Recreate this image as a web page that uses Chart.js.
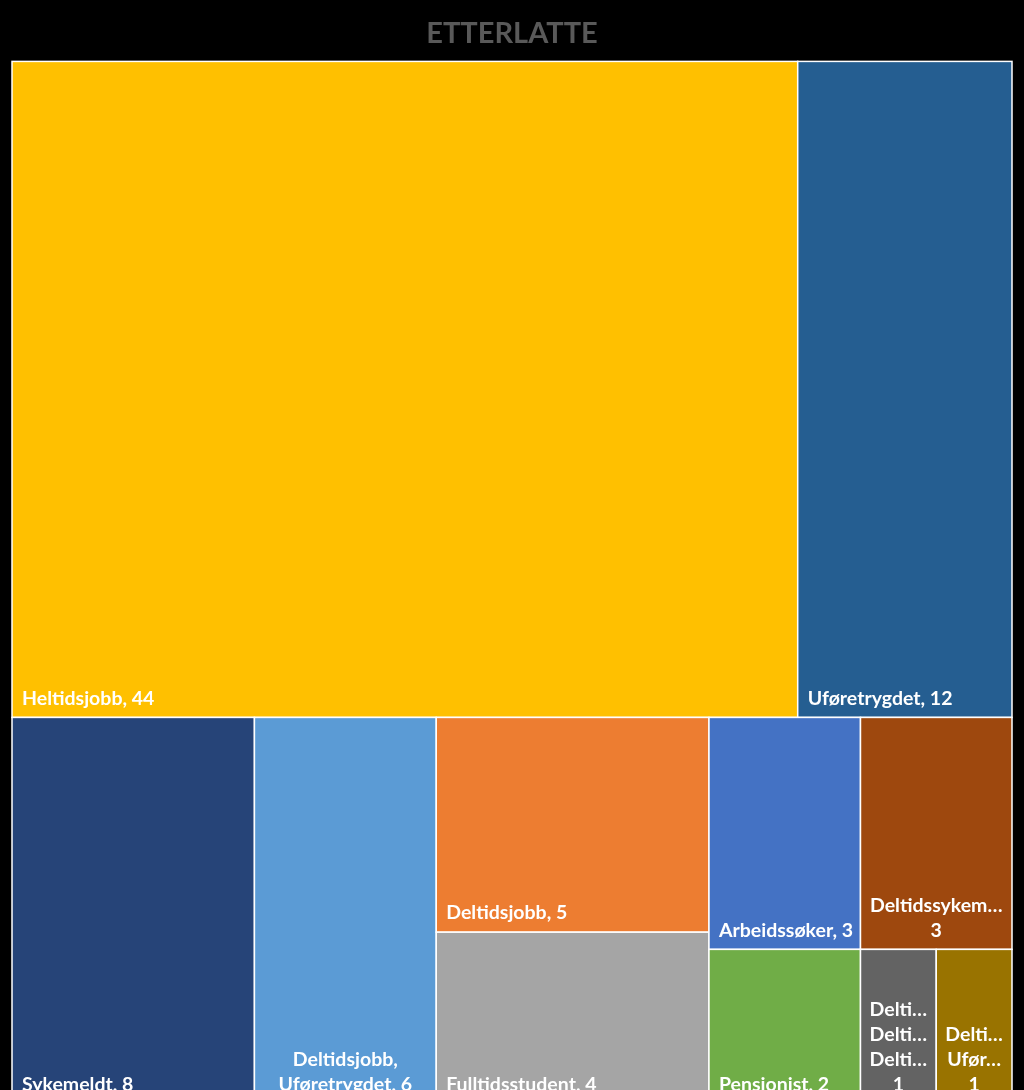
<!DOCTYPE html>
<html>
<head>
<meta charset="utf-8">
<script src="https://cdn.jsdelivr.net/npm/chart.js@4.4.1/dist/chart.umd.min.js"></script>
<style>
	html, body { margin: 0; padding: 0; background: #000; overflow: hidden; }
	#wrap { width: 1024px; height: 1106px; }
</style>
</head>
<body>
<div id="wrap"><canvas id="treemapChart" width="1024" height="1106"></canvas></div>
<script>
// 카테고리 / 값 / 색상
const categories = [
	'Heltidsjobb',
	'Uføretrygdet',
	'Sykemeldt',
	'Deltidsjobb, Uføretrygdet',
	'Deltidsjobb',
	'Fulltidsstudent',
	'Arbeidssøker',
	'Deltidssykemeldt',
	'Pensjonist',
	'Deltidsjobb, Deltidssykemeldt, Deltidsstudent',
	'Deltidssykemeldt, Uføretrygdet'
];
const values = [44, 12, 8, 6, 5, 4, 3, 3, 2, 1, 1];
const colors = [
	'#FFC000', '#255E91', '#264478', '#5B9BD5', '#ED7D31', '#A5A5A5',
	'#4472C4', '#9E480E', '#70AD47', '#636363', '#997300'
];
// 셀 묶음 (Excel 트리맵과 같은 분할 순서, 방향은 단계마다 번갈아 바뀜)
const groups = [[0, 1], [[2], [3], [4, 5], [[6, 7], [8, 9, 10]]]];

function groupSum(node) {
	if (typeof node === 'number') return values[node];
	return node.reduce((s, n) => s + groupSum(n), 0);
}

// 값 비율로 셀 영역 계산 (0~1 좌표)
function layout(node, x0, y0, x1, y1, stackVertical, out) {
	if (typeof node === 'number') {
		out.push({ i: node, x0, y0, x1, y1 });
		return out;
	}
	const total = groupSum(node);
	let pos = stackVertical ? y0 : x0;
	node.forEach(child => {
		const frac = groupSum(child) / total;
		if (stackVertical) {
			const end = pos + (y1 - y0) * frac;
			layout(child, x0, pos, x1, end, false, out);
			pos = end;
		} else {
			const end = pos + (x1 - x0) * frac;
			layout(child, pos, y0, end, y1, true, out);
			pos = end;
		}
	});
	return out;
}

const cells = layout(groups, 0, 0, 1, 1, true, []);

function fitWord(ctx, word, maxW) {
	if (ctx.measureText(word).width <= maxW) return word;
	let s = word;
	while (s.length > 1 && ctx.measureText(s + '…').width > maxW) s = s.slice(0, -1);
	return s + '…';
}

// 트리맵 그리기 플러그인
const treemapPlugin = {
	id: 'treemapCells',
	afterDatasetsDraw(chart) {
		const { ctx, scales: { x, y } } = chart;
		ctx.save();
		cells.forEach(c => {
			const left = x.getPixelForValue(c.x0);
			const right = x.getPixelForValue(c.x1);
			const top = y.getPixelForValue(c.y0);
			const bottom = y.getPixelForValue(c.y1);
			ctx.fillStyle = colors[c.i];
			ctx.fillRect(left, top, right - left, bottom - top);
			ctx.strokeStyle = '#FFFFFF';
			ctx.lineWidth = 1.5;
			ctx.strokeRect(left, top, right - left, bottom - top);
		});

		// 라벨
		ctx.font = 'bold 19.5px Lato';
		ctx.fillStyle = '#FFFFFF';
		ctx.textBaseline = 'middle';
		cells.forEach(c => {
			const left = x.getPixelForValue(c.x0);
			const right = x.getPixelForValue(c.x1);
			const bottom = y.getPixelForValue(c.y1);
			const w = right - left;
			const maxW = w - 14;
			const label = `${categories[c.i]}, ${values[c.i]}`;
			if (ctx.measureText(label).width <= maxW) {
				ctx.textAlign = 'left';
				ctx.fillText(label, left + 10, bottom - 19);
				return;
			}
			// 줄바꿈 + 말줄임
			const words = label.split(' ');
			const lines = [];
			let cur = '';
			words.forEach(wd => {
				const test = cur ? cur + ' ' + wd : wd;
				if (ctx.measureText(test).width <= maxW) {
					cur = test;
				} else {
					if (cur) lines.push(cur);
					if (ctx.measureText(wd).width > maxW) {
						lines.push(fitWord(ctx, wd, maxW));
						cur = '';
					} else {
						cur = wd;
					}
				}
			});
			if (cur) lines.push(cur);
			ctx.textAlign = 'center';
			const cx = (left + right) / 2;
			lines.forEach((ln, k) => {
				ctx.fillText(ln, cx, bottom - 19 - (lines.length - 1 - k) * 25);
			});
		});
		ctx.restore();
	}
};

new Chart(document.getElementById('treemapChart'), {
	type: 'scatter',
	data: {
		datasets: [{ label: 'cells', data: [] }]
	},
	options: {
		responsive: false,
		animation: false,
		devicePixelRatio: 1,
		layout: { padding: { left: 12, right: 12, top: 0.6, bottom: 2 } },
		plugins: {
			legend: { display: false },
			tooltip: { enabled: false },
			title: {
				display: true,
				text: 'ETTERLATTE',
				color: '#595959',
				font: { family: 'Lato', size: 29, weight: 'bold', lineHeight: 1.2 },
				padding: { top: 16, bottom: 10 }
			}
		},
		scales: {
			x: { type: 'linear', min: 0, max: 1, display: false },
			y: { type: 'linear', min: 0, max: 1, reverse: true, display: false }
		}
	},
	plugins: [treemapPlugin]
});
</script>
</body>
</html>
